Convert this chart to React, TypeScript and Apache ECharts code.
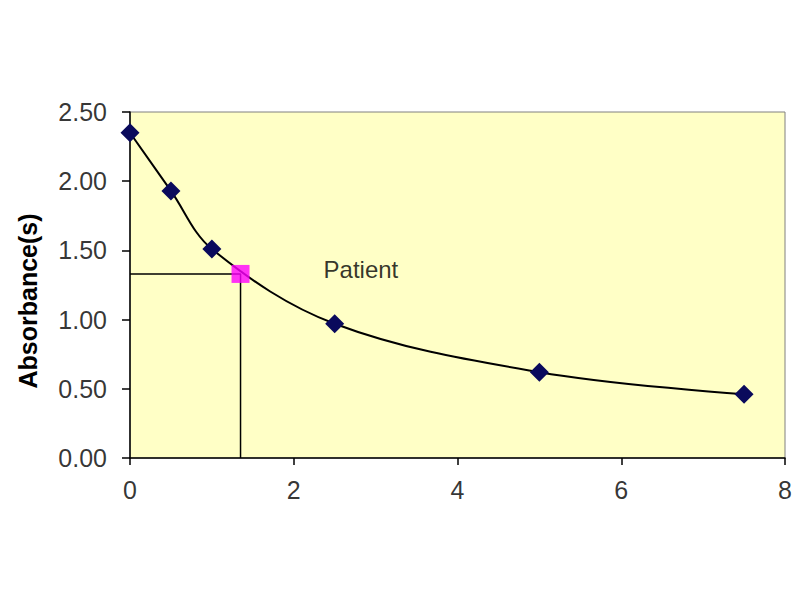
import { useEffect, useRef } from 'react';
import * as echarts from 'echarts';

// standard curve (concentration vs absorbance)
const concentrations = [0, 0.5, 1, 2.5, 5, 7.5];
const absorbances = [2.35, 1.93, 1.51, 0.97, 0.62, 0.46];

// patient reading
const patientX = 1.35;
const patientY = 1.33;
const patientLabel = 'Patient';

const yTicks = [0, 0.5, 1, 1.5, 2, 2.5];
const xTicks = [0, 2, 4, 6, 8];
const yTitle = 'Absorbance(s)';

const FONT = '"Liberation Sans", Arial, sans-serif';

export default function App() {
    const chartRef = useRef<HTMLDivElement>(null);

    useEffect(() => {
        if (!chartRef.current) return;
        const chart = echarts.init(chartRef.current, undefined, { renderer: 'svg' });

        const curve = concentrations.map((c, i) => [c, absorbances[i]]);

        // tick labels are drawn as series labels so that size and gap stay as set
        const tickLabel = {
            show: true,
            color: '#000',
            fontSize: 25,
            fontFamily: FONT,
        };

        chart.setOption({
            animation: false,
            backgroundColor: '#ffffff',
            grid: {
                left: 130,
                right: 15,
                top: 112,
                bottom: 142,
                show: true,
                backgroundColor: '#FFFFC6',
                borderColor: '#808080',
                borderWidth: 1,
            },
            graphic: [
                {
                    type: 'text',
                    x: 28,
                    y: 301,
                    rotation: Math.PI / 2,
                    style: {
                        text: yTitle,
                        fill: '#000',
                        font: `bold 25px ${FONT}`,
                        align: 'center',
                        verticalAlign: 'middle',
                    },
                },
            ],
            xAxis: {
                type: 'value',
                min: xTicks[0],
                max: xTicks[xTicks.length - 1],
                interval: 2,
                axisLine: { show: true, onZero: false, lineStyle: { color: '#000', width: 1.5 } },
                axisTick: { show: true, inside: false, length: 7, lineStyle: { color: '#000', width: 1.5 } },
                axisLabel: { show: false },
                splitLine: { show: false },
            },
            yAxis: {
                type: 'value',
                min: yTicks[0],
                max: yTicks[yTicks.length - 1],
                interval: 0.5,
                axisLine: { show: true, lineStyle: { color: '#000', width: 1.5 } },
                axisTick: { show: true, inside: false, length: 8, lineStyle: { color: '#000', width: 1.5 } },
                axisLabel: { show: false },
                splitLine: { show: false },
            },
            series: [
                {
                    type: 'line',
                    data: [[0, patientY], [patientX, patientY], [patientX, 0]],
                    symbol: 'none',
                    lineStyle: { color: '#000', width: 1.5 },
                    z: 1,
                },
                {
                    type: 'line',
                    data: curve,
                    smooth: 0.35,
                    symbol: 'diamond',
                    symbolSize: 19,
                    itemStyle: { color: '#0A0A5C' },
                    lineStyle: { color: '#000', width: 2 },
                    z: 2,
                },
                {
                    type: 'scatter',
                    data: [[patientX, patientY]],
                    symbol: 'rect',
                    symbolSize: 18,
                    itemStyle: { color: '#FF00FF' },
                    z: 3,
                },
                {
                    type: 'scatter',
                    data: [[2.82, 1.36]],
                    symbolSize: 0,
                    label: {
                        show: true,
                        position: 'inside',
                        formatter: patientLabel,
                        color: '#000',
                        fontSize: 24,
                        fontFamily: FONT,
                    },
                    z: 4,
                },
                {
                    type: 'scatter',
                    data: yTicks.map((v) => [xTicks[0], v]),
                    symbolSize: 0,
                    clip: false,
                    silent: true,
                    label: {
                        ...tickLabel,
                        position: 'left',
                        distance: 23,
                        formatter: (p: any) => Number(p.value[1]).toFixed(2),
                    },
                    z: 5,
                },
                {
                    type: 'scatter',
                    data: xTicks.map((v) => [v, yTicks[0]]),
                    symbolSize: 0,
                    clip: false,
                    silent: true,
                    label: {
                        ...tickLabel,
                        position: 'bottom',
                        distance: 19,
                        formatter: (p: any) => String(p.value[0]),
                    },
                    z: 5,
                },
            ],
        });

        return () => {
            chart.dispose();
        };
    }, []);

    return <div ref={chartRef} style={{ width: 800, height: 600, margin: -8 }} />;
}
